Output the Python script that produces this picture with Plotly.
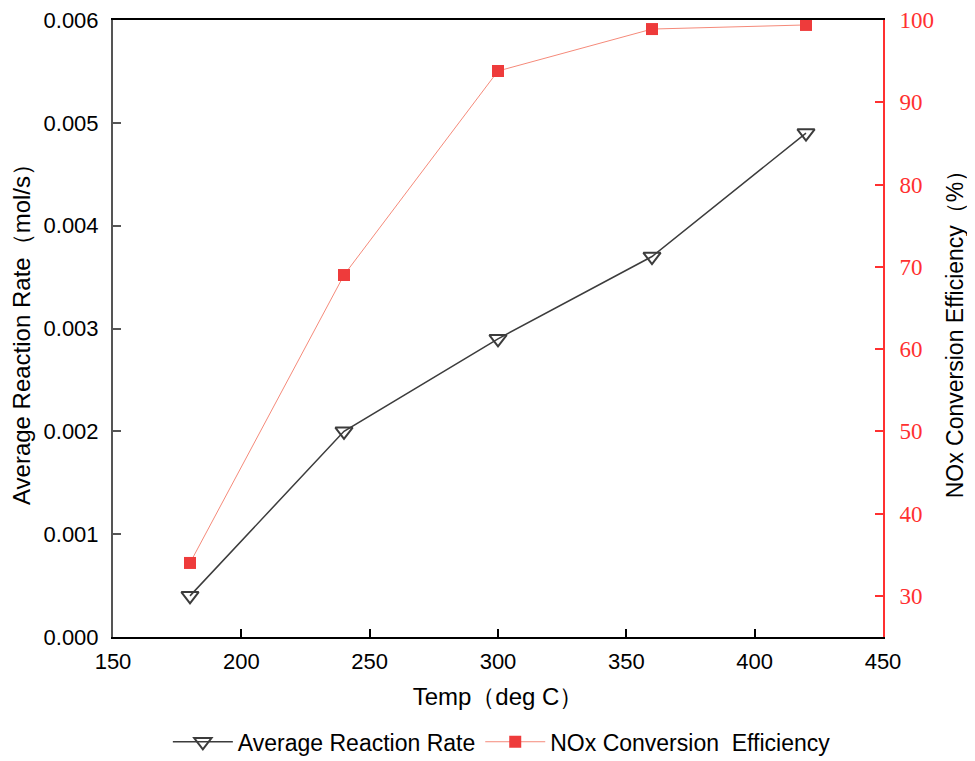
import plotly.graph_objects as go

temps = [180, 240, 300, 360, 420]
rate = [0.0004, 0.0020, 0.0029, 0.0037, 0.0049]
nox = [34.0, 69.0, 93.8, 98.9, 99.4]

fig = go.Figure()
fig.add_trace(go.Scatter(
    x=temps, y=rate, name="Average Reaction Rate", mode="lines+markers",
    line=dict(color="#3c3c3c", width=1.5),
    marker=dict(symbol="triangle-down-open", size=15, color="#3c3c3c",
                line=dict(width=2, color="#3c3c3c")),
))
fig.add_trace(go.Scatter(
    x=temps, y=nox, name="NOx Conversion  Efficiency", mode="lines+markers",
    yaxis="y2",
    line=dict(color="#f58a7a", width=1),
    marker=dict(symbol="square", size=12, color="#ee3b3b",
                line=dict(width=0)),
))

fig.update_layout(
    width=975, height=761,
    margin=dict(l=105, r=100, t=12, b=132),
    plot_bgcolor="white", paper_bgcolor="white",
    font=dict(family="Liberation Sans, Arial", size=22, color="black"),
    showlegend=True,
    legend=dict(orientation="h", x=0.505, xanchor="center",
                yref="container", y=0.064, yanchor="top",
                font=dict(size=23), itemwidth=60),
    xaxis=dict(range=[150, 450], tickvals=[150, 200, 250, 300, 350, 400, 450],
               automargin=False, ticklabeloverflow="allow",
               showline=True, linecolor="black", linewidth=2, mirror=True,
               ticks="inside", ticklen=8, tickwidth=2, tickcolor="black",
               tickfont=dict(size=22), ticklabelstandoff=4,
               showgrid=False, zeroline=False,
               title=dict(text="Temp（deg C）", font=dict(size=24), standoff=15)),
    yaxis=dict(range=[0, 0.006], tickvals=[0, 0.001, 0.002, 0.003, 0.004, 0.005, 0.006],
               tickformat=".3f", automargin=False, ticklabeloverflow="allow",
               showline=True, linecolor="#555555", linewidth=2,
               ticks="inside", ticklen=8, tickwidth=2, tickcolor="#555555",
               tickfont=dict(size=22), ticklabelstandoff=8,
               showgrid=False, zeroline=False,
               title=dict(text="Average Reaction Rate（mol/s）", font=dict(size=24), standoff=22)),
    yaxis2=dict(range=[25, 100], tickvals=[30, 40, 50, 60, 70, 80, 90, 100],
                overlaying="y", side="right", automargin=False, ticklabeloverflow="allow",
                showline=True, linecolor="#ff3030", linewidth=2,
                ticks="inside", ticklen=8, tickwidth=2, tickcolor="#ff3030",
                tickfont=dict(family="Liberation Serif, Times New Roman", size=23, color="#ff3030"),
                ticklabelstandoff=10,
                showgrid=False, zeroline=False,
                title=dict(text="NOx Conversion Efficiency（%）", font=dict(size=23, color="black"), standoff=14)),
)

fig.write_html("out.html")
